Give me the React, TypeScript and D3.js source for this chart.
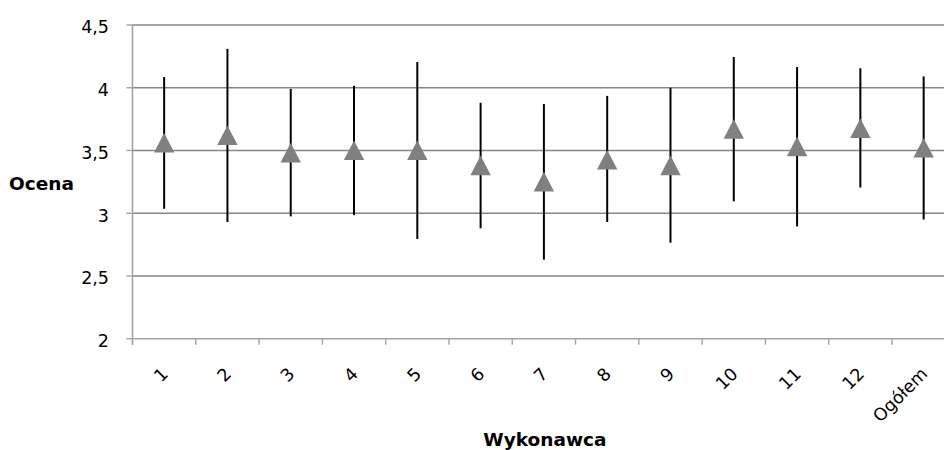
import React from 'react';
import * as d3 from 'd3';

const categories = ['1', '2', '3', '4', '5', '6', '7', '8', '9', '10', '11', '12', 'Ogółem'];
const meanValues = [3.56, 3.62, 3.48, 3.5, 3.5, 3.38, 3.25, 3.425, 3.38, 3.67, 3.53, 3.675, 3.52];
const upperValues = [4.085, 4.31, 3.99, 4.015, 4.205, 3.88, 3.87, 3.935, 4.0, 4.245, 4.165, 4.155, 4.09];
const lowerValues = [3.035, 2.93, 2.975, 2.985, 2.795, 2.88, 2.63, 2.93, 2.765, 3.095, 2.895, 3.205, 2.95];
const yTicks = [2, 2.5, 3, 3.5, 4, 4.5];
const yTitle = 'Ocena';
const xTitle = 'Wykonawca';

const W = 944;
const H = 450;
const plotLeft = 132.5;
const plotRight = 955.3;
const plotTop = 25;
const plotBottom = 338.7;

const fmt = (v: number) => String(v).replace('.', ',');

export default function App() {
  const x = d3.scaleBand<string>().domain(categories).range([plotLeft, plotRight]).padding(0);
  const y = d3.scaleLinear().domain([2, 4.5]).range([plotBottom, plotTop]);
  const triPts: [number, number][] = [[0, -10], [10.2, 9.6], [-10.2, 9.6]];
  const triPath = d3.line().curve(d3.curveLinearClosed)(triPts)!;
  const bw = x.bandwidth();
  const boundaries = categories.map((c) => x(c)!).concat([plotRight]);

  return (
    <svg width={W} height={H} style={{ position: 'absolute', left: 0, top: 0, background: '#fff' }}
      fontFamily="'DejaVu Sans', Verdana, sans-serif">
      <rect x={0} y={0} width={W} height={H} fill="#fff" />
      {yTicks.filter((t) => t > 2).map((t) => (
        <line key={'g' + t} x1={plotLeft} x2={plotRight} y1={y(t)} y2={y(t)} stroke="#868686" strokeWidth={1.4} />
      ))}
      <line x1={plotLeft} x2={plotLeft} y1={plotTop} y2={plotBottom + 6} stroke="#a3a3a3" strokeWidth={1.6} />
      {yTicks.map((t) => (
        <g key={'yt' + t}>
          <line x1={plotLeft - 6} x2={plotLeft} y1={y(t)} y2={y(t)} stroke="#a3a3a3" strokeWidth={1.4} />
          <text x={109} y={y(t) + 8.3} textAnchor="end" fontSize={17.5} fill="#000">{fmt(t)}</text>
        </g>
      ))}
      <line x1={plotLeft} x2={plotRight} y1={plotBottom} y2={plotBottom} stroke="#a3a3a3" strokeWidth={1.6} />
      {boundaries.map((b, i) => (
        <line key={'xt' + i} x1={b} x2={b} y1={plotBottom} y2={plotBottom + 6} stroke="#a3a3a3" strokeWidth={1.4} />
      ))}
      {categories.map((c) => {
        const cx = x(c)! + bw / 2;
        return (
          <text key={'xl' + c} transform={`translate(${cx + 5},${375}) rotate(-45)`} textAnchor="end"
            fontSize={17.5} fill="#000">{c}</text>
        );
      })}
      {categories.map((c, i) => {
        const cx = x(c)! + bw / 2;
        return (
          <line key={'eb' + c} x1={cx} x2={cx} y1={y(upperValues[i])} y2={y(lowerValues[i])} stroke="#000" strokeWidth={2} />
        );
      })}
      {categories.map((c, i) => {
        const cx = x(c)! + bw / 2;
        return (
          <path key={'m' + c} d={triPath} transform={`translate(${cx},${y(meanValues[i])})`} fill="#808080" />
        );
      })}
      <text x={9} y={190} fontSize={18.5} fontWeight="bold" fill="#000">{yTitle}</text>
      <text x={(plotLeft + plotRight) / 2 + 1} y={446} textAnchor="middle" fontSize={18.5} fontWeight="bold" fill="#000">{xTitle}</text>
    </svg>
  );
}
